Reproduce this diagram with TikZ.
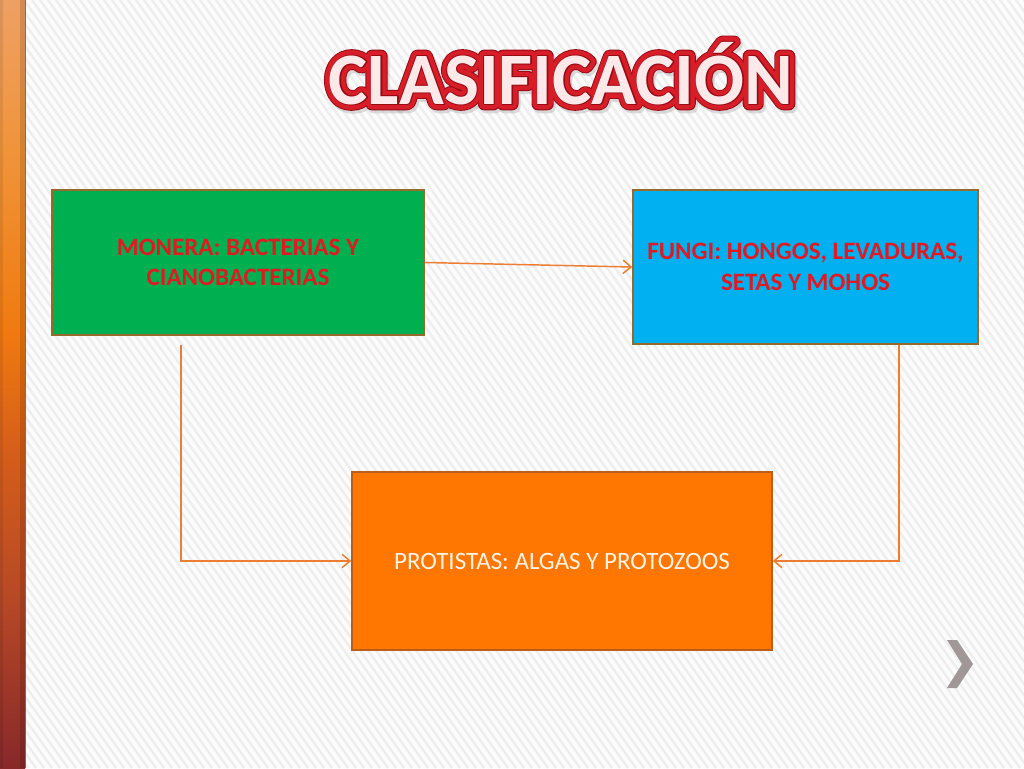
\documentclass[tikz,border=0pt]{standalone}
\usepackage{fontspec}
\setmainfont{Carlito}
\usetikzlibrary{arrows.meta,calc}
\definecolor{bgc}{RGB}{252,252,252}
\definecolor{bgstripe}{RGB}{238,238,238}
\definecolor{greenc}{RGB}{0,176,80}
\definecolor{bluec}{RGB}{0,176,240}
\definecolor{orangec}{RGB}{255,119,0}
\definecolor{brownb}{RGB}{150,105,45}
\definecolor{orangeb}{RGB}{185,95,25}
\definecolor{boxred}{RGB}{225,26,34}
\definecolor{prottext}{RGB}{255,243,230}
\definecolor{arrowc}{RGB}{237,125,49}
\definecolor{chev}{RGB}{160,152,150}
\definecolor{tdark}{RGB}{150,10,20}
\definecolor{tred}{RGB}{215,30,40}
\definecolor{tpink}{RGB}{253,232,234}
\definecolor{barA}{RGB}{135,40,42}
\definecolor{barB}{RGB}{182,72,38}
\definecolor{barC}{RGB}{214,94,26}
\definecolor{barD}{RGB}{240,122,16}
\definecolor{barE}{RGB}{240,148,58}
\definecolor{barF}{RGB}{238,160,100}
\pgfdeclareverticalshading{barshade}{50bp}{color(0bp)=(barA); color(25bp)=(barA); color(35.9bp)=(barB); color(45.7bp)=(barC); color(53.5bp)=(barD); color(65.2bp)=(barE); color(75bp)=(barF); color(100bp)=(barF)}
\tikzset{
  box/.style={draw=#1, line width=1.2pt, inner sep=0pt, align=center,
    font=\fontsize{18.75}{23}\selectfont},
  conn/.style={draw=arrowc, line width=1.1pt, -{Straight Barb[length=6pt,width=10pt]}},
  titlelayer/.style={font=\fontsize{55.5}{60}\selectfont\bfseries\addfontfeature{FakeBold=#1},
    anchor=base, inner sep=0pt}
}
\begin{document}
\begin{tikzpicture}[x=0.75pt,y=-0.75pt]
\useasboundingbox (0,0) rectangle (1024,768);
% background
\fill[bgc] (0,0) rectangle (1024,768);
\begin{scope}
\clip (0,0) rectangle (1024,768);
\foreach \i in {-560,-552,...,1024}
  \draw[bgstripe, line width=1.8pt] (\i,0) -- ++(548,768);
\end{scope}
% left bar
\shade[shading=barshade] (0,0) rectangle (25,768);
\fill[black, opacity=0.12] (20,0) rectangle (25,768);
\fill[black, opacity=0.08] (0,0) rectangle (3,768);
\draw[black!50!barA, opacity=0.6, line width=0.8pt] (25.5,0) -- (25.5,768);
% title (layered strokes)
\begin{scope}[line join=round]
\node[titlelayer=17, text=black!30, opacity=0.45] (tshadow) at (563,107) {CLASIFICACIÓN};
\node[titlelayer=17, text=tdark] (t1) at (561,104) {CLASIFICACIÓN};
\node[titlelayer=14.5, text=tred] (t2) at (561,104) {CLASIFICACIÓN};
\node[titlelayer=2.6, text=tdark] (t3) at (561,104) {CLASIFICACIÓN};
\node[titlelayer=0, text=tpink] (t4) at (561,104) {CLASIFICACIÓN};
\end{scope}
% boxes
\node[box=brownb, fill=greenc, minimum width=279pt, minimum height=108.75pt,
  text=boxred, font=\fontsize{18.75}{23}\selectfont\bfseries] (monera) at (238,262.5)
  {MONERA: BACTERIAS Y\\CIANOBACTERIAS};
\node[box=brownb, fill=bluec, minimum width=258.75pt, minimum height=115.5pt,
  text=boxred, font=\fontsize{18.75}{23}\selectfont\bfseries] (fungi) at (805.5,267)
  {FUNGI: HONGOS, LEVADURAS,\\SETAS Y MOHOS};
\node[box=orangeb, fill=orangec, minimum width=315pt, minimum height=133.5pt,
  text=prottext] (protistas) at (562,561)
  {PROTISTAS: ALGAS Y PROTOZOOS};
% connectors
\draw[conn] (monera.east) -- (fungi.west);
\coordinate (mstart) at ($(monera.south)+(-57,9)$);
\coordinate (fstart) at ($(fungi.south)+(93.5,0)$);
\draw[conn] (mstart) |- (protistas.west);
\draw[conn] (fstart) |- (protistas.east);
% next chevron
\fill[chev] (947,640) -- (957,640) -- (973,664) -- (957,688) -- (947,688) -- (962,664) -- cycle;
\end{tikzpicture}
\end{document}
